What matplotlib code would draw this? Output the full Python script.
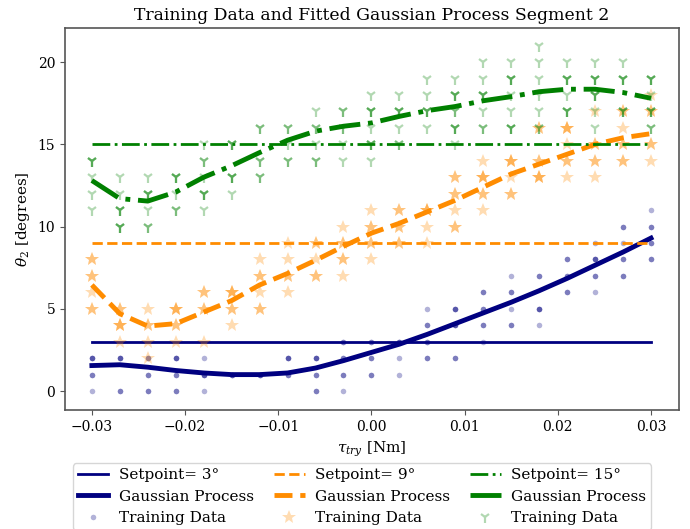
import numpy as np
import matplotlib
matplotlib.use("Agg")
import matplotlib.pyplot as plt

plt.rcParams['font.family'] = ['DejaVu Serif']
plt.rcParams['mathtext.fontset'] = 'dejavuserif'

# torque grid used for the training runs
tau = np.round(np.linspace(-0.03, 0.03, 21), 4)

setpoints = [3, 9, 15]

# measured angles per torque value (repeats are repeated trials)
train_3 = [
    [2, 2, 2, 1, 1, 0], [2, 2, 2, 0, 0], [2, 2, 1, 1, 0, 0], [2, 2, 2, 1, 1, 0, 0],
    [2, 1, 1, 1, 0], [1, 1, 1], [1, 1, 1], [2, 2, 2, 1, 1], [2, 2, 2, 1, 1, 0, 0],
    [3, 3, 2, 2, 1, 1, 0], [3, 3, 2, 2, 1, 1], [3, 3, 3, 2, 1], [5, 4, 4, 3, 3, 2, 2],
    [5, 5, 5, 4, 4, 4, 2, 2], [6, 6, 5, 5, 4, 4, 3], [7, 6, 6, 5, 4, 4],
    [7, 7, 5, 5, 5, 4], [8, 8, 7, 7, 6, 6], [9, 8, 8, 8, 7, 7, 6],
    [10, 10, 9, 8, 8, 7, 7], [11, 10, 10, 9, 9, 8, 8],
]
train_9 = [
    [8, 8, 7, 7, 6, 5, 5], [5, 5, 4, 4, 4, 3], [5, 4, 4, 3, 2], [5, 5, 5, 4, 4, 3],
    [6, 6, 5, 5, 3], [6, 6, 6, 5, 5, 4], [8, 7, 7, 6, 5, 5], [9, 8, 7, 7, 6],
    [9, 9, 8, 7, 7], [10, 9, 9, 8, 8, 7], [11, 10, 10, 9, 9, 8], [11, 11, 10, 10, 9, 9],
    [11, 11, 11, 10, 9], [13, 13, 12, 12, 11, 10, 10], [14, 13, 13, 13, 12, 12, 11],
    [14, 14, 14, 13, 12, 12], [16, 16, 14, 14, 13, 13, 13], [16, 16, 16, 15, 14, 14, 13],
    [17, 15, 15, 14, 14, 13], [17, 17, 16, 15, 15, 14, 14], [18, 17, 17, 15, 15, 14],
]
train_15 = [
    [14, 14, 14, 13, 12, 11], [13, 12, 11, 11, 11, 10, 10, 10], [13, 12, 12, 12, 11, 10, 10],
    [13, 13, 13, 12, 11, 11], [15, 14, 14, 13, 12, 12, 12, 11], [15, 15, 15, 13, 13, 13, 12],
    [16, 16, 14, 14, 13, 13], [16, 16, 15, 14, 14], [17, 16, 16, 15, 14, 14],
    [17, 17, 16, 16, 15, 14], [18, 17, 17, 17, 16, 15, 15, 15, 14],
    [18, 17, 17, 17, 16, 15, 15], [19, 18, 17, 17, 17, 16],
    [19, 18, 18, 18, 17, 17, 16, 16, 16, 15], [20, 19, 18, 18, 18, 17, 16, 16],
    [20, 19, 19, 19, 18, 17, 16, 16, 16], [21, 20, 19, 18, 17, 16, 16],
    [20, 19, 19, 19, 18, 17, 17, 17], [20, 19, 19, 19, 18, 18, 18, 17, 16],
    [20, 19, 19, 19, 17, 17, 17], [19, 19, 19, 18, 17, 17, 17, 16, 16],
]

# GP posterior mean evaluated on the torque grid
gp_3 = [1.55, 1.6, 1.45, 1.25, 1.1, 1.0, 1.0, 1.1, 1.4, 1.85, 2.35,
        2.85, 3.45, 4.1, 4.75, 5.4, 6.1, 6.85, 7.65, 8.45, 9.3]
gp_9 = [6.45, 4.7, 3.95, 4.1, 4.8, 5.5, 6.45, 7.15, 7.95, 8.8, 9.6,
        10.2, 10.9, 11.6, 12.4, 13.2, 13.8, 14.4, 15.0, 15.4, 15.65]
gp_15 = [12.8, 11.7, 11.55, 12.1, 13.0, 13.7, 14.5, 15.25, 15.8, 16.1, 16.3,
         16.7, 17.05, 17.3, 17.65, 17.9, 18.2, 18.35, 18.35, 18.15, 17.8]


def flatten(cols):
    xs, ys = [], []
    for x, col in zip(tau, cols):
        xs += [x] * len(col)
        ys += col
    return np.array(xs), np.array(ys)


fig = plt.figure(figsize=(6.9, 5.29), dpi=100)
ax = fig.add_axes([0.094, 0.225, 0.89, 0.722])

styles = [
    dict(color='navy', ls='-', marker='o', ms=4, mew=0, data=train_3, gp=gp_3),
    dict(color='darkorange', ls='--', marker='*', ms=10, mew=0, data=train_9, gp=gp_9),
    dict(color='green', ls='-.', marker='1', ms=8, mew=1.6, data=train_15, gp=gp_15),
]

for sp, st in zip(setpoints, styles):
    ax.plot(tau, np.full(len(tau), sp), color=st['color'], ls=st['ls'], lw=2,
            label='Setpoint= %d°' % sp)
    ax.plot(tau, st['gp'], color=st['color'], ls=st['ls'], lw=3.5,
            label='Gaussian Process')
    xs, ys = flatten(st['data'])
    ax.plot(xs, ys, ls='none', marker=st['marker'], ms=st['ms'], mew=st['mew'],
            color=st['color'], alpha=0.3, label='Training Data')

ax.set_xlim(-0.0329, 0.0330)
ax.set_ylim(-1.15, 22.07)
ax.set_xticks([-0.03, -0.02, -0.01, 0.0, 0.01, 0.02, 0.03])
ax.set_yticks([0, 5, 10, 15, 20])
ax.set_xlabel(r'$\tau_{try}$ [Nm]', fontsize=11)
ax.set_ylabel(r'$\theta_2$ [degrees]', fontsize=11)
ax.set_title('Training Data and Fitted Gaussian Process Segment 2', fontsize=12.4)
ax.tick_params(labelsize=10, color='#555555')
for s in ax.spines.values():
    s.set_color('#555555')
    s.set_linewidth(1.2)

ax.legend(loc='upper center', bbox_to_anchor=(0.484, -0.12), ncol=3, fontsize=11,
          handlelength=2.0, handletextpad=0.7, columnspacing=1.3, borderpad=0.3,
          labelspacing=0.5)

fig.savefig('out.png', dpi=100)
